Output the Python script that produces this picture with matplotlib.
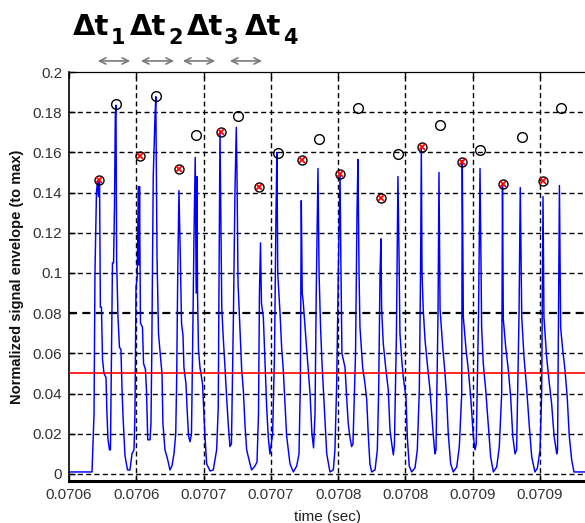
import matplotlib
matplotlib.use("Agg")
import matplotlib.pyplot as plt
import numpy as np

# ---------------- data (time in microseconds after 0.07058 s) ----------------
T0 = 0.07058
wave_t_us = [
    0.0, 17.1, 18.6, 19.3, 20.4, 21.2, 21.9, 22.7, 23.3, 24.1, 24.9, 26.0, 27.5, 28.2, 29.0, 30.1,
    30.8, 31.6, 32.3, 33.1, 33.8, 34.4, 34.9, 35.4, 36.4, 37.5, 38.6, 39.4, 40.1, 41.6, 43.5, 45.3, 46.8, 48.3, 49.0,
    49.8, 50.7, 51.5, 52.0, 52.4, 53.1, 54.6, 55.4, 56.8, 57.6, 58.5, 60.2,
    60.9, 61.5, 62.6, 63.9, 64.5, 65.4, 66.5, 68.0, 69.1, 69.8, 71.3, 73.2, 75.0, 76.5, 78.0, 79.3, 80.0, 80.8,
    81.7, 82.8, 83.6, 84.7, 85.4, 86.9, 87.7, 88.8, 89.9,
    91.0, 91.8, 92.9, 93.8, 94.5, 95.0, 95.5, 96.2, 97.3, 99.2, 101.0, 102.3, 104.8, 107.2, 109.7, 110.9,
    111.4, 112.2, 112.8, 113.5, 114.6, 115.9, 117.2, 118.4, 119.6,
    120.7, 122.2, 123.3, 124.3, 124.8, 125.6, 128.3, 129.5, 130.8, 132.0, 134.5, 135.7, 138.2, 139.7, 140.8, 141.5,
    142.3, 143.0, 144.4, 145.6, 146.9, 148.1, 149.3,
    151.3, 152.7, 153.8, 154.5, 155.1, 156.8, 158.0, 159.2, 161.7, 164.2, 166.7, 169.2, 170.9, 171.9,
    172.6, 173.3, 174.1, 176.6, 179.1, 180.5, 181.7,
    182.8, 183.7, 184.5, 185.0, 185.8, 186.9, 188.0, 190.2, 191.5, 193.9, 196.4, 197.6, 198.9, 200.1,
    201.4, 202.1, 202.8, 205.1, 206.3, 207.5, 208.8, 210.0,
    211.0, 212.9, 214.0, 214.7, 215.5, 216.2, 218.2, 219.9, 221.2, 222.4, 223.6, 224.9, 227.4, 229.1, 230.1, 231.1,
    231.8, 232.3, 233.5, 235.3, 237.2, 238.5, 239.8, 241.0,
    241.8, 243.3, 244.4, 245.2, 245.9, 247.2, 248.4, 250.4, 251.4, 252.8, 254.6, 257.1, 258.8, 260.3,
    261.2, 261.8, 262.3, 263.2, 264.5, 266.2, 268.2, 270.7, 271.9,
    272.7, 274.2, 274.9, 275.7, 277.7, 279.4, 280.6, 281.8, 283.6, 285.5, 288.1, 290.0, 291.8,
    292.2, 293.0, 295.0, 296.7, 298.5, 300.4, 301.7,
    302.6, 304.3, 305.4, 306.6, 307.8, 309.6, 311.5, 313.3, 315.3, 317.8, 319.7, 321.5,
    322.1, 322.7, 324.5, 326.4, 328.2, 329.7, 331.4,
    332.6, 334.4, 335.3, 336.4, 338.1, 340.1, 342.0, 343.8, 346.2, 348.0, 350.0, 351.2,
    352.2, 352.9, 354.9, 356.9, 358.6, 360.4, 362.4,
    363.0, 363.7, 364.4, 365.3, 366.8, 368.5, 370.2, 371.7, 373.5, 375.2, 383.4,
]
wave_v = [
    0.001, 0.001, 0.03, 0.10, 0.14, 0.146, 0.138, 0.146, 0.083, 0.083, 0.057, 0.050, 0.048, 0.030, 0.017, 0.012,
    0.012, 0.06, 0.105, 0.105, 0.133, 0.178, 0.1835, 0.106, 0.078, 0.063, 0.062, 0.042, 0.029, 0.009, 0.002, 0.002, 0.010, 0.012, 0.030,
    0.093, 0.098, 0.143, 0.104, 0.143, 0.075, 0.073, 0.055, 0.052, 0.041, 0.017, 0.017,
    0.025, 0.060, 0.148, 0.178, 0.1877, 0.108, 0.070, 0.058, 0.050, 0.025, 0.012, 0.0075, 0.002, 0.004, 0.010, 0.020, 0.047, 0.10,
    0.141, 0.105, 0.075, 0.069, 0.053, 0.045, 0.033, 0.019, 0.016,
    0.02, 0.06, 0.12, 0.1575, 0.09, 0.148, 0.09, 0.062, 0.053, 0.045, 0.019, 0.005, 0.0015, 0.002, 0.012, 0.033,
    0.09, 0.170, 0.13, 0.083, 0.068, 0.053, 0.037, 0.024, 0.0136,
    0.015, 0.08, 0.14, 0.1725, 0.15, 0.095, 0.052, 0.042, 0.024, 0.012, 0.005, 0.002, 0.004, 0.006, 0.03, 0.09,
    0.115, 0.085, 0.078, 0.057, 0.033, 0.018, 0.010,
    0.02, 0.06, 0.13, 0.16, 0.10, 0.08, 0.063, 0.052, 0.019, 0.005, 0.001, 0.004, 0.010, 0.045,
    0.136, 0.09, 0.085, 0.062, 0.040, 0.020, 0.013,
    0.03, 0.09, 0.13, 0.152, 0.10, 0.073, 0.055, 0.027, 0.010, 0.001, 0.002, 0.012, 0.045, 0.10,
    0.1485, 0.10, 0.06, 0.053, 0.038, 0.025, 0.018, 0.0136,
    0.015, 0.06, 0.13, 0.1565, 0.10, 0.073, 0.053, 0.045, 0.037, 0.019, 0.005, 0.001, 0.002, 0.012, 0.042, 0.10,
    0.117, 0.082, 0.065, 0.053, 0.042, 0.022, 0.015, 0.0095,
    0.015, 0.07, 0.148, 0.11, 0.07, 0.057, 0.048, 0.038, 0.018, 0.004, 0.001, 0.003, 0.012, 0.042,
    0.10, 0.162, 0.10, 0.082, 0.067, 0.055, 0.042, 0.019, 0.010,
    0.012, 0.08, 0.150, 0.082, 0.063, 0.050, 0.038, 0.020, 0.005, 0.001, 0.0035, 0.0135, 0.040,
    0.156, 0.078, 0.062, 0.052, 0.038, 0.019, 0.012,
    0.015, 0.08, 0.152, 0.073, 0.055, 0.042, 0.025, 0.0085, 0.001, 0.0035, 0.0135, 0.040,
    0.1435, 0.077, 0.063, 0.052, 0.038, 0.019, 0.010,
    0.012, 0.08, 0.1425, 0.078, 0.058, 0.042, 0.024, 0.0085, 0.001, 0.0028, 0.012, 0.040,
    0.138, 0.078, 0.058, 0.045, 0.035, 0.019, 0.010,
    0.012, 0.08, 0.1435, 0.073, 0.062, 0.052, 0.038, 0.019, 0.007, 0.001, 0.001,
]

# odd pulses: red-x markers, even pulses: open circles
red_t_us = [22.3, 52.8, 81.7, 112.9, 141.2, 173.1, 201.4, 231.8, 262.3, 292.0, 322.5, 352.2]
red_v = [0.1463, 0.1582, 0.1517, 0.1701, 0.1428, 0.1562, 0.1493, 0.1373, 0.1627, 0.1552, 0.1443, 0.1458]
blk_t_us = [34.9, 64.6, 94.4, 125.6, 155.3, 185.4, 214.7, 244.4, 275.7, 305.4, 336.6, 365.6]
blk_v = [0.1841, 0.1881, 0.1687, 0.1781, 0.1597, 0.1667, 0.1821, 0.1592, 0.1736, 0.1612, 0.1677, 0.1821]

threshold = 0.05

xtick_us = [0, 50, 100, 150, 200, 250, 300, 350]
xtick_labels = ["0.0706", "0.0706", "0.0707", "0.0707", "0.0708", "0.0708", "0.0709", "0.0709"]
ytick_vals = [0, 0.02, 0.04, 0.06, 0.08, 0.1, 0.12, 0.14, 0.16, 0.18, 0.2]
ytick_labels = ["0", "0.02", "0.04", "0.06", "0.08", "0.1", "0.12", "0.14", "0.16", "0.18", "0.2"]

# Delta-t interval arrows (start, end in microseconds)
arrow_start_us = [19.3, 51.3, 82.5, 117.4]
arrow_end_us = [47.6, 80.2, 110.7, 145.6]
dt_subscripts = ["1", "2", "3", "4"]

# ---------------- plotting ----------------
to_s = lambda a: T0 + np.asarray(a) * 1e-6

W, H = 585, 523
fig = plt.figure(figsize=(W / 100, H / 100), dpi=100)
ax = fig.add_axes([69 / W, (H - 481) / H, 516 / W, (481 - 72) / H])

ax.set_xlim(to_s(0), to_s(383.4))
ax.set_ylim(-0.0035, 0.2)

dash = (0, (3.6, 2.4))
for xv in xtick_us[1:]:
    ax.axvline(to_s(xv), color="black", lw=1.0, ls=dash, zorder=1)
for yv in ytick_vals[:-1]:
    ax.axhline(yv, color="black", lw=1.6 if abs(yv - 0.08) < 1e-9 else 1.0, ls=dash, zorder=1)

ax.plot(to_s(wave_t_us), wave_v, color="#0000ff", lw=1.05, zorder=2)
ax.axhline(threshold, color="#ff0000", lw=1.2, zorder=3)

ax.plot(to_s(red_t_us), red_v, "o", mfc="none", mec="black", ms=6.5, mew=1.0, zorder=4)
ax.plot(to_s(red_t_us), red_v, "x", color="#ff0000", ms=4.0, mew=1.3, zorder=5)
ax.plot(to_s(blk_t_us), blk_v, "o", mfc="none", mec="black", ms=7, mew=1.0, zorder=4)

ax.set_xticks(to_s(xtick_us))
ax.set_xticklabels(xtick_labels)
ax.set_yticks(ytick_vals)
ax.set_yticklabels(ytick_labels)
ax.tick_params(direction="in", length=4, width=1, top=True, right=False,
               labelsize=11, labelcolor="#333333", pad=5)
for lab in ax.get_xticklabels() + ax.get_yticklabels():
    lab.set_family("Liberation Sans")

ax.spines["right"].set_visible(False)
ax.spines["bottom"].set_linewidth(2.2)
ax.spines["left"].set_linewidth(1.2)
ax.spines["top"].set_linewidth(0.9)

ax.set_xlabel("time (sec)", fontsize=11, family="Liberation Sans", color="#222222", labelpad=6)
ax.set_ylabel("Normalized signal envelope (to max)", fontsize=10.5, family="Liberation Sans",
              fontweight="bold", color="#111111", labelpad=6)

# interval arrows above the axes
trans = ax.get_xaxis_transform()
for a, b in zip(arrow_start_us, arrow_end_us):
    ax.annotate("", xy=(to_s(b), 1.027), xytext=(to_s(a), 1.027), xycoords=trans, textcoords=trans,
                arrowprops=dict(arrowstyle="<->,head_length=0.45,head_width=0.22", color="#7a7a7a", lw=1.2),
                annotation_clip=False)

# Delta-t labels
dt_x = [73, 130, 187, 245]
sub_x = [111, 168, 224, 283]
for xd, xs, s in zip(dt_x, sub_x, dt_subscripts):
    fig.text(xd / W, 1 - 35 / H, "\u0394t", fontsize=21, fontweight="bold", family="DejaVu Sans",
             ha="left", va="baseline")
    fig.text(xs / W, 1 - 44 / H, s, fontsize=15, fontweight="bold", family="DejaVu Sans",
             ha="left", va="baseline")

fig.savefig("out.png", dpi=100)
